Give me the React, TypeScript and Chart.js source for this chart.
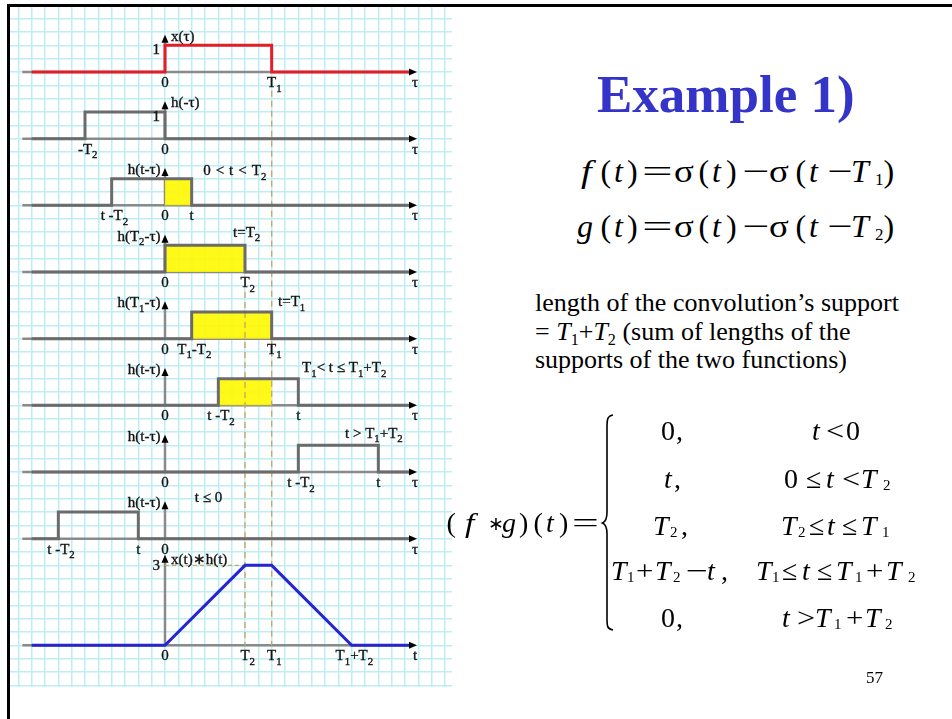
import React, { useEffect, useRef } from "react";
import { Chart, registerables } from "chart.js";

Chart.register(...registerables);

// ---- signal parameters (one time unit = one major grid step) ----
const T1 = 4;
const T2 = 3;
const X_SUPPORT = [0, T1]; // x(τ) = 1 on [0, T1]
const H_SUPPORT = [0, T2]; // h(τ) = 1 on [0, T2]
const PULSE_HEIGHT = 1;
const SHIFTS = [1, T2, T1, 5, 8, -1]; // t used in each h(t-τ) panel
const CONV_T = [0, T2, T1, T1 + T2]; // breakpoints of x(t)*h(t)
const CONV_V = [0, T2, T2, 0];
const TAU_START = -5;
const TAU_END = 9.2;

// ---- panel texts ----
const NAMES = ["x(τ)", "h(-τ)", "h(t-τ)", "h(T_2-τ)", "h(T_1-τ)", "h(t-τ)", "h(t-τ)", "h(t-τ)", "x(t)∗h(t)"];
const CONDITIONS = [
  "0\u2004<\u2004t\u2004<\u2004T_2",
  "t=T_2",
  "t=T_1",
  "T_1< t ≤ T_1+T_2",
  "t > T_1+T_2",
  "t ≤ 0",
];
const AXIS_VARS = ["τ", "τ", "τ", "τ", "τ", "τ", "τ", "τ", "t"];
const TICKS: [number, string][][] = [
  [[0, "0"], [T1, "T_1"]],
  [[-T2, "-T_2"], [0, "0"]],
  [[SHIFTS[0] - T2, "t -T_2"], [0, "0"], [SHIFTS[0], "t"]],
  [[0, "0"], [T2, "T_2"]],
  [[0, "0"], [T1 - T2, "T_1-T_2"], [T1, "T_1"]],
  [[0, "0"], [SHIFTS[3] - T2, "t -T_2"], [SHIFTS[3], "t"]],
  [[0, "0"], [SHIFTS[4] - T2, "t -T_2"], [SHIFTS[4], "t"]],
  [[SHIFTS[5] - T2, "t -T_2"], [SHIFTS[5], "t"], [0, "0"]],
  [[0, "0"], [T2, "T_2"], [T1, "T_1"], [T1 + T2, "T_1+T_2"]],
];

// ---- layout ----
const ROW_BASE = [0, 2.5, 5, 7.5, 10, 12.5, 15, 17.5, 21.5]; // baselines, grid units downward
const X_MIN = -5.8125;
const X_MAX = 10.7625;
const G_MIN = -2.4375;
const G_MAX = 23.0625;
const NAME_LEFT = [true, true, false, false, false, false, false, false, true];
const NOTE_X = [1.43, 2.55, 4.24, 5.14, 6.75, 1.12];
const NOTE_DY = [7, 2, 5, 4, 3, 1];
const AXIS_FROM = -5.35;
const ARROW_TIP = 9.45;
const HEAD_GAP = 0.4;
const LABEL_FS = 15;

const FONT = '"Liberation Serif", "Times New Roman", serif';
const RED = "#e41e26";
const BLUE = "#2525d2";
const PULSE_GRAY = "#6b6b6b";
const AXIS_GRAY = "#8a8a8a";
const YELLOW = "rgba(255, 248, 0, 0.9)";
const GUIDE = "#c9a86a";
const GRID = "#bdeef3";
const INK = "#141414";

const pulse = (a: number, b: number) => [
  { x: TAU_START, y: 0 },
  { x: a, y: 0 },
  { x: a, y: PULSE_HEIGHT },
  { x: b, y: PULSE_HEIGHT },
  { x: b, y: 0 },
  { x: TAU_END, y: 0 },
];

function rowTop(i: number) {
  return i === 8 ? Math.max(...CONV_V) : PULSE_HEIGHT;
}

function buildDatasets() {
  const ds: any[] = [];
  const line = (data: any[], axis: string, color: string) => ({
    data,
    yAxisID: axis,
    borderColor: color,
    borderWidth: 3,
    pointRadius: 0,
    fill: false,
    order: 1,
  });
  ds.push(line(pulse(X_SUPPORT[0], X_SUPPORT[1]), "r0", RED));
  ds.push(line(pulse(-H_SUPPORT[1], -H_SUPPORT[0]), "r1", PULSE_GRAY));
  SHIFTS.forEach((t, k) => {
    const a = t - H_SUPPORT[1];
    const b = t - H_SUPPORT[0];
    const axis = "r" + (k + 2);
    const lo = Math.max(a, X_SUPPORT[0]);
    const hi = Math.min(b, X_SUPPORT[1]);
    if (lo < hi) {
      // overlap of x(τ) and h(t-τ)
      ds.push({
        data: [
          { x: lo, y: 0 },
          { x: lo, y: PULSE_HEIGHT },
          { x: hi, y: PULSE_HEIGHT },
          { x: hi, y: 0 },
        ],
        yAxisID: axis,
        borderWidth: 0,
        pointRadius: 0,
        backgroundColor: YELLOW,
        fill: "origin",
        order: 3,
      });
    }
    ds.push(line(pulse(a, b), axis, PULSE_GRAY));
  });
  const conv = [{ x: TAU_START, y: 0 }, ...CONV_T.map((t, k) => ({ x: t, y: CONV_V[k] })), { x: TAU_END, y: 0 }];
  ds.push(line(conv, "r8", BLUE));
  // dashed guides at T1 and T2
  const guide = (data: any[], axis: string, dash: number[]) => ({
    data,
    yAxisID: axis,
    borderColor: GUIDE,
    borderWidth: 1.4,
    borderDash: dash,
    pointRadius: 0,
    fill: false,
    order: 2,
  });
  ds.push(guide([{ x: T1, y: ROW_BASE[0] + 0.7 }, { x: T1, y: ROW_BASE[8] }], "g", [6, 4]));
  ds.push(guide([{ x: T2, y: ROW_BASE[3] + 0.75 }, { x: T2, y: ROW_BASE[8] }], "g", [6, 4]));
  const peak = Math.max(...CONV_V);
  ds.push(guide([{ x: 0, y: peak }, { x: T2, y: peak }], "r8", [4, 3]));
  return ds;
}

function segs(s: string) {
  const out: { t: string; sub: boolean }[] = [];
  for (let i = 0; i < s.length; i++) {
    if (s[i] === "_" && i + 1 < s.length) {
      out.push({ t: s[i + 1], sub: true });
      i++;
    } else {
      const last = out[out.length - 1];
      if (last && !last.sub) last.t += s[i];
      else out.push({ t: s[i], sub: false });
    }
  }
  return out;
}

function drawRich(ctx: CanvasRenderingContext2D, s: string, x: number, y: number, align: string, fs = LABEL_FS) {
  const parts = segs(s);
  const widths = parts.map((p) => {
    ctx.font = `${p.sub ? fs * 0.72 : fs}px ${FONT}`;
    return ctx.measureText(p.t).width;
  });
  const total = widths.reduce((a, b) => a + b, 0);
  const trailing = parts.length && parts[parts.length - 1].sub ? widths[widths.length - 1] : 0;
  let cx = align === "left" ? x : align === "right" ? x - total : x - (total - trailing) / 2;
  ctx.textBaseline = "alphabetic";
  ctx.textAlign = "left";
  ctx.fillStyle = INK;
  ctx.strokeStyle = INK;
  ctx.lineWidth = 0.35;
  parts.forEach((p, k) => {
    ctx.font = `${p.sub ? fs * 0.72 : fs}px ${FONT}`;
    const yy = p.sub ? y + fs * 0.3 : y;
    ctx.fillText(p.t, cx, yy);
    ctx.strokeText(p.t, cx, yy);
    cx += widths[k];
  });
}

const panelPlugin = {
  id: "panels",
  beforeDatasetsDraw(chart: any) {
    const { ctx } = chart;
    const xs = chart.scales.x;
    const x0 = xs.getPixelForValue(0);
    ctx.save();
    ctx.strokeStyle = AXIS_GRAY;
    ctx.lineWidth = 2.5;
    ROW_BASE.forEach((_, i) => {
      const ys = chart.scales["r" + i];
      const y0 = ys.getPixelForValue(0);
      ctx.beginPath();
      ctx.moveTo(xs.getPixelForValue(AXIS_FROM), y0);
      ctx.lineTo(xs.getPixelForValue(ARROW_TIP) - 6, y0);
      ctx.stroke();
      const yTip = ys.getPixelForValue(rowTop(i) + HEAD_GAP);
      ctx.beginPath();
      ctx.moveTo(x0, y0);
      ctx.lineTo(x0, yTip + 6);
      ctx.stroke();
    });
    ctx.restore();
  },
  afterDatasetsDraw(chart: any) {
    const { ctx } = chart;
    const xs = chart.scales.x;
    const x0 = xs.getPixelForValue(0);
    const xTip = xs.getPixelForValue(ARROW_TIP);
    ctx.save();
    ROW_BASE.forEach((_, i) => {
      const ys = chart.scales["r" + i];
      const y0 = ys.getPixelForValue(0);
      const yTip = ys.getPixelForValue(rowTop(i) + HEAD_GAP);
      ctx.fillStyle = "#000";
      ctx.beginPath();
      ctx.moveTo(xTip, y0);
      ctx.lineTo(xTip - 8, y0 - 3.5);
      ctx.lineTo(xTip - 8, y0 + 3.5);
      ctx.closePath();
      ctx.fill();
      ctx.beginPath();
      ctx.moveTo(x0, yTip);
      ctx.lineTo(x0 - 3.5, yTip + 8);
      ctx.lineTo(x0 + 3.5, yTip + 8);
      ctx.closePath();
      ctx.fill();

      if (NAME_LEFT[i]) {
        drawRich(ctx, NAMES[i], x0 + 6, yTip + (i === 8 ? 9 : 6), "left");
        const lvl = rowTop(i);
        drawRich(ctx, String(lvl), x0 - 5, ys.getPixelForValue(lvl) + (i === 8 ? 4.5 : 8.5), "right");
      } else {
        drawRich(ctx, NAMES[i], x0 - 4.5, yTip + 6, "right");
        const k = i - 2;
        drawRich(ctx, CONDITIONS[k], xs.getPixelForValue(NOTE_X[k]), yTip + NOTE_DY[k], "left");
      }
      TICKS[i].forEach(([v, label]) => {
        drawRich(ctx, label, xs.getPixelForValue(v), y0 + 15, "center");
      });
      drawRich(ctx, AXIS_VARS[i], xTip - 2, y0 + 15, "center");
    });
    ctx.restore();
  },
};

function halfSteps(scale: any) {
  const ticks: any[] = [];
  for (let v = Math.ceil(scale.min * 2) / 2; v <= scale.max + 1e-9; v += 0.5) ticks.push({ value: v });
  scale.ticks = ticks;
}

function ConvolutionChart() {
  const ref = useRef<HTMLCanvasElement>(null);
  useEffect(() => {
    if (!ref.current) return;
    const gridOpts = { color: GRID, lineWidth: 1.5, drawTicks: false };
    const scales: any = {
      x: {
        type: "linear",
        axis: "x",
        position: "bottom",
        min: X_MIN,
        max: X_MAX,
        grid: gridOpts,
        border: { display: false },
        ticks: { display: false },
        afterBuildTicks: halfSteps,
      },
      g: {
        type: "linear",
        axis: "y",
        position: "left",
        reverse: true,
        min: G_MIN,
        max: G_MAX,
        grid: gridOpts,
        border: { display: false },
        ticks: { display: false },
        afterBuildTicks: halfSteps,
      },
    };
    ROW_BASE.forEach((b, i) => {
      scales["r" + i] = {
        type: "linear",
        axis: "y",
        position: "left",
        display: false,
        min: b - G_MAX,
        max: b - G_MIN,
      };
    });
    const chart = new Chart(ref.current, {
      type: "line",
      data: { datasets: buildDatasets() },
      options: {
        responsive: false,
        maintainAspectRatio: false,
        devicePixelRatio: 1,
        animation: false,
        events: [],
        layout: { padding: 0 },
        plugins: { legend: { display: false }, tooltip: { enabled: false } },
        scales,
      },
      plugins: [panelPlugin],
    } as any);
    return () => chart.destroy();
  }, []);
  return <canvas ref={ref} width={442} height={680} style={{ position: "absolute", left: 10, top: 7 }} />;
}

// ---- math typesetting on the right ----
// [text, left, kind (i = italic, s = subscript), horizontal stretch, font size, baseline shift]
type Tok = [string, number, string?, number?, number?, number?];

function MathRow({ toks, base, fs, subFs }: { toks: Tok[]; base: number; fs: number; subFs: number }) {
  return (
    <>
      {toks.map(([s, x, kind, sx, size0, dy], k) => {
        const isSub = kind === "s";
        const size = size0 || (isSub ? subFs : fs);
        const b = (isSub ? base + fs * 0.1 : base) + (dy || 0);
        return (
          <span
            key={k}
            style={{
              position: "absolute",
              left: x,
              top: b - 0.8375 * size,
              fontSize: size,
              lineHeight: size + "px",
              fontStyle: kind === "i" ? "italic" : "normal",
              whiteSpace: "nowrap",
              display: "inline-block",
              transform: sx ? `scaleX(${sx})` : undefined,
              transformOrigin: "left center",
            }}
          >
            {s}
          </span>
        );
      })}
    </>
  );
}

const F_ROW: Tok[] = [
  ["f", 581, "i", 1.2], ["(", 600.5], ["t", 614, "i"], [")", 627], ["=", 642, "u", 1.7],
  ["σ", 674, "u", 1.15], ["(", 698.5], ["t", 712, "i"], [")", 726], ["−", 742, "u", 1.5],
  ["σ", 769, "u", 1.15], ["(", 795.5], ["t", 809, "i"], ["−", 827, "u", 1.4], ["T", 851, "i"], ["1", 875, "s"], [")", 883.5],
];
const G_ROW: Tok[] = [
  ["g", 577, "i"], ["(", 600.5], ["t", 614, "i"], [")", 627], ["=", 642, "u", 1.7],
  ["σ", 674, "u", 1.15], ["(", 698.5], ["t", 712, "i"], [")", 726], ["−", 742, "u", 1.5],
  ["σ", 769, "u", 1.15], ["(", 795.5], ["t", 809, "i"], ["−", 827, "u", 1.4], ["T", 851, "i"], ["2", 875, "s"], [")", 883.5],
];
const CONV_LHS: Tok[] = [
  ["(", 446.5], ["f", 465, "i", 1.2], ["∗", 487.5, "u", 1, 19, -2], ["g", 502, "i"], [")", 519],
  ["(", 533.5], ["t", 546, "i"], [")", 559], ["=", 572, "u", 1.7],
];
const CASES: [Tok[], number][] = [
  [[["0", 661], [",", 676], ["t", 812, "i"], ["<", 826, "u", 1.15], ["0", 846]], 440],
  [[["t", 664, "i"], [",", 674], ["0", 784], ["≤", 806], ["t", 826, "i"], ["<", 842, "u", 1.15], ["T", 861, "i"], ["2", 883, "s"]], 488],
  [[["T", 653, "i"], ["2", 670, "s"], [",", 681], ["T", 781, "i"], ["2", 798, "s"], ["≤", 809], ["t", 827, "i"], ["≤", 842], ["T", 861, "i"], ["1", 882, "s"]], 535],
  [[["T", 611, "i"], ["1", 627, "s"], ["+", 636, "u", 1.1], ["T", 655, "i"], ["2", 673, "s"], ["−", 686, "u", 1.4], ["t", 707, "i"], [",", 721],
    ["T", 756, "i"], ["1", 772, "s"], ["≤", 782], ["t", 802, "i"], ["≤", 817], ["T", 836, "i"], ["1", 855, "s"], ["+", 866, "u", 1.1], ["T", 886, "i"], ["2", 908, "s"]], 580],
  [[["0", 661], [",", 676], ["t", 782, "i"], [">", 797, "u", 1.15], ["T", 815, "i"], ["1", 834, "s"], ["+", 846, "u", 1.1], ["T", 865, "i"], ["2", 885, "s"]], 627],
];

const subStyle: React.CSSProperties = { fontSize: "0.62em", position: "relative", top: "0.3em" };

function TextLine({ base, fs, children }: { base: number; fs: number; children: React.ReactNode }) {
  return (
    <div
      style={{
        position: "absolute",
        left: 535,
        top: base - 0.8375 * fs,
        fontSize: fs,
        lineHeight: fs + "px",
        whiteSpace: "nowrap",
      }}
    >
      {children}
    </div>
  );
}

export default function App() {
  return (
    <div
      style={{
        position: "absolute",
        left: 0,
        top: 0,
        width: 952,
        height: 719,
        overflow: "hidden",
        background: "#fff",
        fontFamily: FONT,
        color: "#000",
      }}
    >
      <div
        style={{
          position: "absolute",
          left: 7,
          top: 4,
          width: 952,
          height: 720,
          borderLeft: "3px solid #000",
          borderTop: "3px solid #000",
        }}
      />
      <ConvolutionChart />
      <div
        style={{
          position: "absolute",
          left: 597,
          top: 112 - 0.8375 * 53,
          fontSize: 53,
          lineHeight: "53px",
          fontWeight: "bold",
          color: "#3434c8",
          whiteSpace: "nowrap",
        }}
      >
        Example 1)
      </div>
      <MathRow toks={F_ROW} base={182} fs={32} subFs={17} />
      <MathRow toks={G_ROW} base={237} fs={32} subFs={17} />
      <TextLine base={312} fs={26}>length of the convolution’s support</TextLine>
      <TextLine base={341} fs={26}>
        = <i>T</i>
        <span style={subStyle}>1</span>+<i>T</i>
        <span style={subStyle}>2</span> (sum of lengths of the
      </TextLine>
      <TextLine base={369} fs={26}>supports of the two functions)</TextLine>
      <MathRow toks={CONV_LHS} base={532} fs={28} subFs={15} />
      <svg width={952} height={719} style={{ position: "absolute", left: 0, top: 0 }}>
        <path
          d="M 613 415 C 607 416 607 420 607 428 L 607 512 C 607 519 605 522 602.5 523 C 605 524 607 527 607 534 L 607 618 C 607 626 607 629 613 630"
          fill="none"
          stroke="#000"
          strokeWidth={1.6}
        />
      </svg>
      {CASES.map(([toks, base], k) => (
        <MathRow key={k} toks={toks} base={base} fs={28} subFs={15} />
      ))}
      <div
        style={{
          position: "absolute",
          left: 866,
          top: 683 - 0.8375 * 17,
          fontSize: 17,
          lineHeight: "17px",
        }}
      >
        57
      </div>
    </div>
  );
}
